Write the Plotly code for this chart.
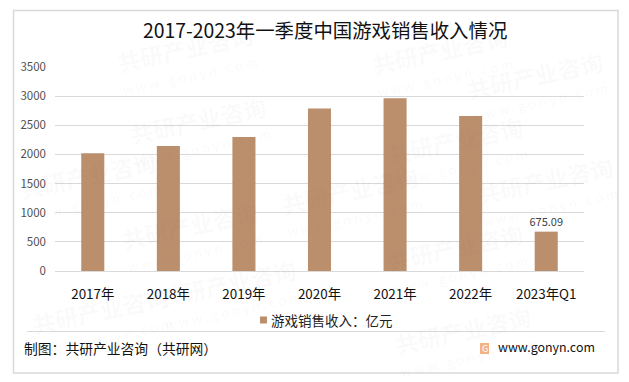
import plotly.graph_objects as go

categories = ["2017年", "2018年", "2019年", "2020年", "2021年", "2022年", "2023年Q1"]
revenue = [2020, 2144, 2300, 2786, 2965, 2658, 675.09]
value_labels = ["", "", "", "", "", "", "675.09"]
y_ticks = [0, 500, 1000, 1500, 2000, 2500, 3000, 3500]

TITLE = "2017-2023年一季度中国游戏销售收入情况"
SERIES = "游戏销售收入：亿元"
SOURCE = "制图：共研产业咨询（共研网）"
SITE = "www.gonyn.com"
CJK = "Noto Sans CJK SC, Noto Sans, sans-serif"
W, H = 629, 382
L, R, T, B = 55, 584, 67, 271
BAR = "#BB8E6C"

fig = go.Figure(go.Bar(
    x=categories, y=revenue, name=SERIES, width=0.305,
    marker=dict(color=BAR, line=dict(width=0)),
    text=value_labels, textposition="outside", cliponaxis=False, constraintext="none",
    textfont=dict(size=11, color="#404040", family=CJK),
    showlegend=False,
))

def px(x): return (x - L) / (R - L)
def py(y): return (B - y) / (B - T)

annotations = [
    dict(text=TITLE, x=px(325), y=py(30), font=dict(size=19.4, color="#111111")),
    dict(text=SERIES, x=px(269), y=py(320), xanchor="left", font=dict(size=13.5, color="#222222")),
    dict(text=SOURCE, x=px(22), y=py(348), xanchor="left", font=dict(size=13.8, color="#111111")),
    dict(text=SITE, x=px(496), y=py(347), xanchor="left", font=dict(size=12.4, color="#111111")),
    dict(text="G", x=px(484.5), y=py(348.5), font=dict(size=9, color="#ffffff")),
]
# Faint diagonal site watermarks
for wx, wy in [(185, 48), (440, 50), (198, 120), (88, 175), (455, 140), (535, 75),
               (190, 225), (350, 190), (455, 247), (228, 283), (100, 310), (463, 330), (545, 180)]:
    annotations.append(dict(text="<b>共研产业咨询</b>", x=px(wx), y=py(wy), textangle=-12,
                            font=dict(size=23, color="rgba(120,120,120,0.045)")))
    annotations.append(dict(text="w w w . g o n y n . c o m", x=px(wx + 5), y=py(wy + 27), textangle=-12,
                            font=dict(size=13, color="rgba(120,120,120,0.055)")))
for a in annotations:
    a.setdefault("xanchor", "center")
    a.update(xref="paper", yref="paper", yanchor="middle", showarrow=False)

shapes = [
    dict(type="rect", xref="paper", yref="paper", x0=px(13.5), x1=px(618), y0=py(10.5), y1=py(373),
         line=dict(color="#D9D9D9", width=1.5), fillcolor="rgba(0,0,0,0)"),
    dict(type="line", xref="paper", yref="paper", x0=px(27), x1=px(605), y0=py(331.5), y1=py(331.5),
         line=dict(color="#D9D9D9", width=1)),
    dict(type="rect", xref="paper", yref="paper", x0=px(480), x1=px(489), y0=py(343), y1=py(354),
         line=dict(width=0), fillcolor="#F4B183"),
    dict(type="rect", xref="paper", yref="paper", x0=px(260), x1=px(267), y0=py(316.5), y1=py(323.5),
         line=dict(width=0), fillcolor=BAR),
]

fig.update_layout(
    width=W, height=H, autosize=False,
    margin=dict(l=L, r=W - R, t=T, b=H - B),
    paper_bgcolor="white", plot_bgcolor="rgba(0,0,0,0)",
    font=dict(family=CJK, size=13, color="#111111"),
    annotations=annotations, shapes=shapes, showlegend=False,
    xaxis=dict(showline=True, linecolor="#D9D9D9", linewidth=1, ticks="", tickfont=dict(size=13.4, color="#111111"),
               showgrid=False, ticklabelstandoff=11, fixedrange=True),
    yaxis=dict(range=[0, 3500], tickvals=y_ticks, showgrid=True, gridcolor="#D9D9D9", gridwidth=1,
               zeroline=False, ticks="", tickfont=dict(size=11.5, color="#505050"),
               ticklabelstandoff=8, fixedrange=True),
)
fig.write_html("out.html", config=dict(displayModeBar=False),
               post_script="document.body.style.margin='0';document.body.style.overflow='hidden';")
